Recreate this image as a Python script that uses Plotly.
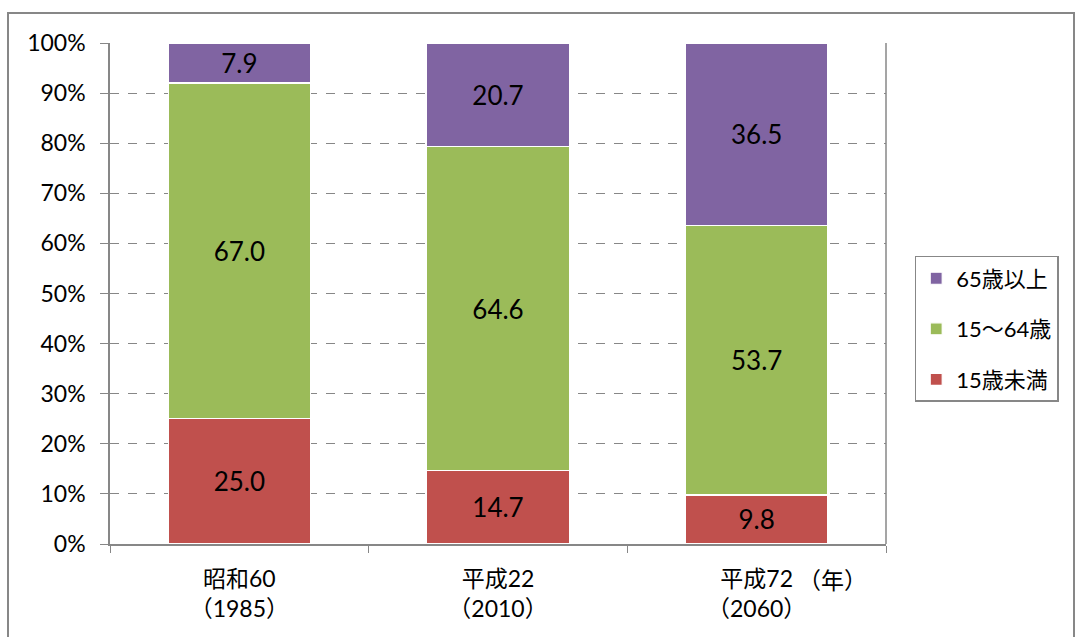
import plotly.graph_objects as go

# Age composition of the population (percent)
periods = ["昭和60<br>（1985）", "平成22<br>（2010）", "平成72<br>（2060）"]
under15 = [25.0, 14.7, 9.8]
age15_64 = [67.0, 64.6, 53.7]
over65 = [7.9, 20.7, 36.5]
tick_vals = [0, 10, 20, 30, 40, 50, 60, 70, 80, 90, 100]
tick_text = [f"{v}%" for v in tick_vals]

FONT = "Lato, 'Noto Sans CJK JP', sans-serif"
GRAY = "#878787"

series = [
    ("15歳未満", under15, "#C0504D"),
    ("15～64歳", age15_64, "#9BBB59"),
    ("65歳以上", over65, "#8064A2"),
]

fig = go.Figure()
for i, (name, vals, color) in enumerate(series):
    fig.add_trace(go.Bar(
        x=periods, y=vals, name=name, legendgroup=f"g{i}",
        legendrank=1000 - i,
        marker=dict(color=color, line=dict(color="white", width=1.2)),
        text=[f"{v:.1f}" for v in vals], textposition="inside",
        insidetextanchor="middle", textangle=0,
        textfont=dict(size=26, color="black", family=FONT),
        hoverinfo="skip",
    ))

fig.update_layout(
    barmode="stack", bargap=0.45,
    width=1075, height=637,
    margin=dict(l=110, r=189, t=43, b=93),
    paper_bgcolor="white", plot_bgcolor="white",
    font=dict(family=FONT, size=23, color="black"),
    uniformtext=dict(mode="show", minsize=10),
    showlegend=True,
    legend=dict(
        x=1.037, y=0.575, xanchor="left", yanchor="top",
        traceorder="grouped", tracegroupgap=19,
        bordercolor=GRAY, borderwidth=1.5,
        font=dict(size=22, family=FONT),
        itemwidth=30,
    ),
    xaxis=dict(
        type="category", showline=True, linecolor=GRAY, linewidth=1.5,
        ticks="outside", tickson="boundaries", ticklen=7, tickcolor=GRAY,
        tickfont=dict(size=23, family=FONT), showgrid=False,
        ticklabelstandoff=14,
    ),
    yaxis=dict(
        range=[0, 100], tickvals=tick_vals, ticktext=tick_text,
        showline=True, linecolor=GRAY, linewidth=1.5,
        ticks="outside", ticklen=8, tickcolor=GRAY,
        showgrid=True, gridcolor=GRAY, gridwidth=1.2, griddash="dash",
        zeroline=False, tickfont=dict(size=23, family=FONT),
        ticklabelstandoff=10,
    ),
    shapes=[
        # right edge of plot area
        dict(type="line", xref="paper", yref="paper", x0=1, x1=1, y0=0, y1=1,
             line=dict(color=GRAY, width=1.5)),
        # outer frame of the chart
        dict(type="rect", xref="paper", yref="paper",
             x0=(8 - 110) / 776, x1=(1074 - 110) / 776,
             y0=-0.3, y1=(544 - 13) / 501,
             line=dict(color=GRAY, width=2), fillcolor="rgba(0,0,0,0)",
             layer="below"),
    ],
    annotations=[
        dict(text="（年）", xref="paper", yref="paper",
             x=(796 - 110) / 776, y=-(580 - 544) / 501,
             xanchor="left", yanchor="middle",
             showarrow=False, font=dict(size=23, family=FONT)),
    ],
)

fig.write_html("out.html")
